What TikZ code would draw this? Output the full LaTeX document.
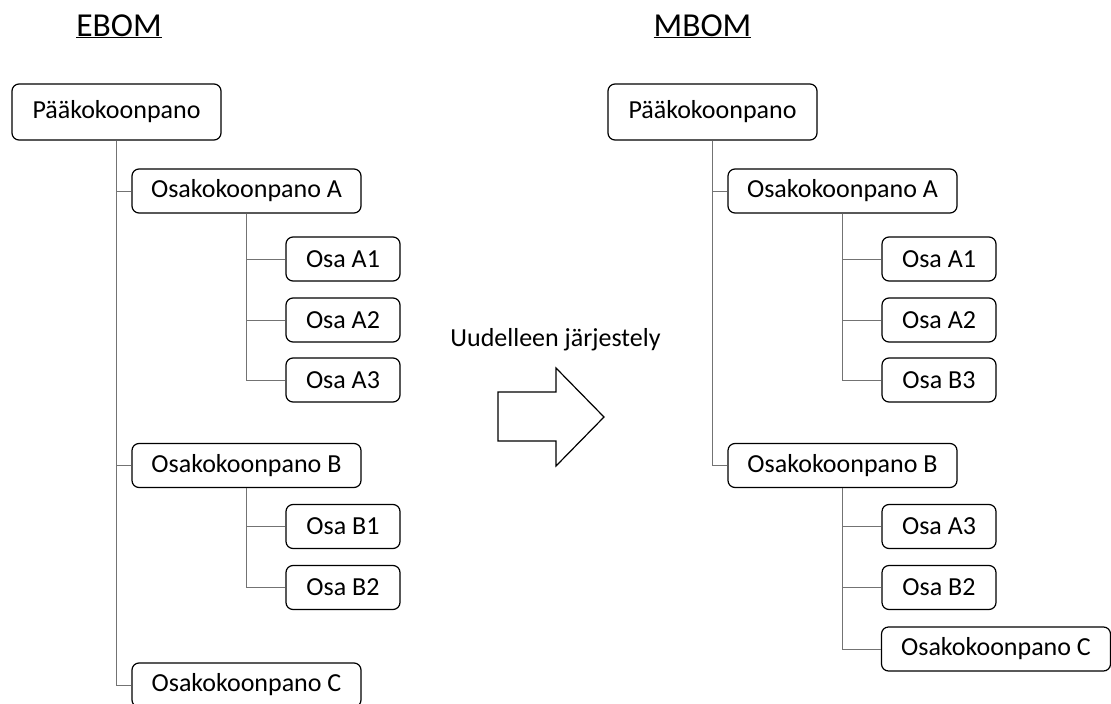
\documentclass[tikz,border=0pt]{standalone}
\usepackage{fontspec}
\setmainfont{Carlito}
\begin{document}
\begin{tikzpicture}[x=1pt,y=-1pt,
  bombox/.style={draw=black,fill=white,rounded corners=7pt,line width=1.2pt,
    minimum height=44pt,inner sep=0pt,font=\fontsize{26}{30}\selectfont},
  topbox/.style={bombox,minimum width=209pt,minimum height=56pt},
  asmbox/.style={bombox,minimum width=229pt},
  partbox/.style={bombox,minimum width=114pt},
  link/.style={draw=black!55,line width=1pt},
  title/.style={font=\fontsize{33.5}{38}\selectfont,inner sep=0pt,anchor=base}]
\useasboundingbox (0,0) rectangle (1111,704);

% titles
\node[title] (te) at (119,36) {\underline{EBOM}};
\node[title] (tm) at (702.5,36) {\underline{MBOM}};

% EBOM tree
\node[topbox]  (e0)  at (116.5,112) {Pääkokoonpano};
\node[asmbox]  (ea)  at (246.5,191) {Osakokoonpano A};
\node[partbox] (ea1) at (343,259)   {Osa A1};
\node[partbox] (ea2) at (343,320)   {Osa A2};
\node[partbox] (ea3) at (343,380)   {Osa A3};
\node[asmbox]  (eb)  at (246.5,465.5) {Osakokoonpano B};
\node[partbox] (eb1) at (343,526.5) {Osa B1};
\node[partbox] (eb2) at (343,587.5) {Osa B2};
\node[asmbox]  (ec)  at (246.5,685) {Osakokoonpano C};

% MBOM tree
\node[topbox]  (m0)  at (712.5,112) {Pääkokoonpano};
\node[asmbox]  (ma)  at (842.5,191) {Osakokoonpano A};
\node[partbox] (ma1) at (939,259)   {Osa A1};
\node[partbox] (ma2) at (939,320)   {Osa A2};
\node[partbox] (mb3) at (939,380)   {Osa B3};
\node[asmbox]  (mb)  at (842.5,465.5) {Osakokoonpano B};
\node[partbox] (ma3) at (939,526.5) {Osa A3};
\node[partbox] (mb2) at (939,587.5) {Osa B2};
\node[asmbox]  (mc)  at (996,649)   {Osakokoonpano C};

% tree connectors
\foreach \p/\c in {e0/ea,e0/eb,e0/ec,ea/ea1,ea/ea2,ea/ea3,eb/eb1,eb/eb2,
                   m0/ma,m0/mb,ma/ma1,ma/ma2,ma/mb3,mb/ma3,mb/mb2,mb/mc}
  \draw[link] (\p.south) |- (\c.west);

% rearrangement arrow
\node[font=\fontsize{26}{30}\selectfont,inner sep=0pt,anchor=base] (lbl)
  at (555.5,346) {Uudelleen järjestely};
\coordinate (ar) at (498,392);
\draw[line width=1.2pt,line join=miter]
  (ar) -- ++(58,0) -- ++(0,-24) -- ++(48,49) -- ++(-48,49) -- ++(0,-25)
  -- ++(-58,0) -- cycle;
\end{tikzpicture}
\end{document}
